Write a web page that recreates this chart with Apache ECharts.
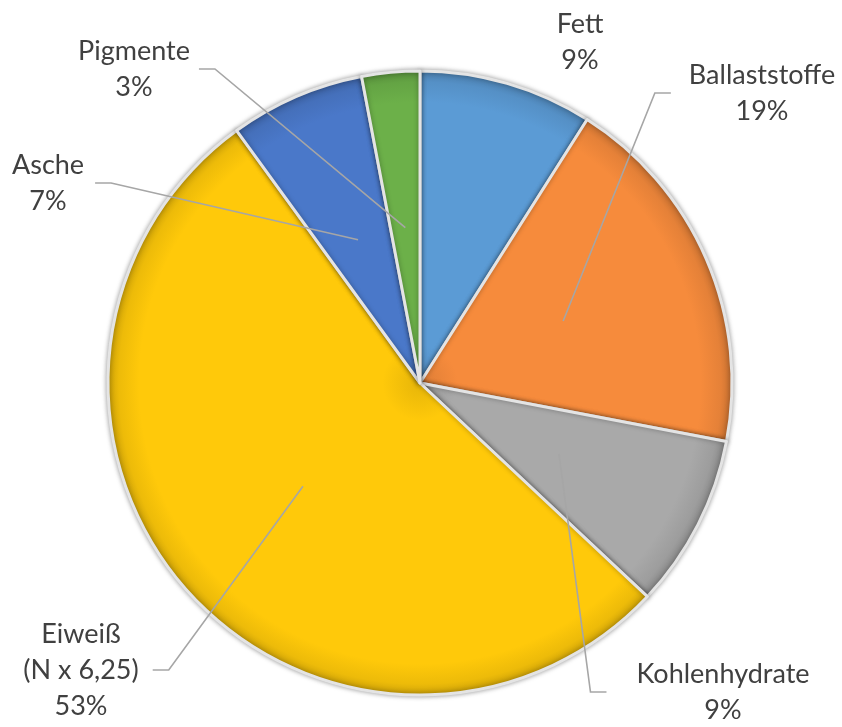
<!DOCTYPE html>
<html>
<head>
<meta charset="utf-8">
<style>
  html, body { margin: 0; padding: 0; background: #fff; }
  #chart { width: 842px; height: 727px; }
</style>
<script src="https://cdn.jsdelivr.net/npm/echarts@6/dist/echarts.min.js"></script>
</head>
<body>
<div id="chart"></div>
<script>
// Zusammensetzung (Anteile in %)
const categories = ['Fett', 'Ballaststoffe', 'Kohlenhydrate', 'Eiweiß\n(N x 6,25)', 'Asche', 'Pigmente'];
const shares = [9, 19, 9, 53, 7, 3];
const sliceColors = ['#5b9bd5', '#f68b3c', '#a9a9a9', '#ffc90a', '#4a78c9', '#6cb049'];

// label centres and which side the leader line comes from
const labelSpots = [
    { x: 580, y: 42, side: 0 },
    { x: 762, y: 93, side: 1, gap: 18 },
    { x: 723, y: 692, side: 1, gap: 30 },
    { x: 81, y: 670, side: -1, gap: 14 },
    { x: 48, y: 183, side: -1, gap: 11 },
    { x: 134, y: 69, side: -1, gap: 9 }
];

const pieCenter = [420, 383],
    pieRadius = 312;

const chart = echarts.init(document.getElementById('chart'), null, { renderer: 'canvas' });

const total = shares.reduce((a, b) => a + b, 0);
let acc = 0;
const midAngles = shares.map(v => {
    const mid = (acc + v / 2) / total * Math.PI * 2;
    acc += v;
    return mid;
});

function shade(hex, f) {
    const n = parseInt(hex.slice(1), 16);
    const c = [n >> 16, (n >> 8) & 255, n & 255].map(v => Math.round(v * f));
    return 'rgb(' + c.join(',') + ')';
}

function rimGradient(color) {
    return new echarts.graphic.RadialGradient(pieCenter[0], pieCenter[1], pieRadius, [
        { offset: 0, color: shade(color, 0.9) },
        { offset: 0.12, color: color },
        { offset: 0.9, color: color },
        { offset: 0.965, color: shade(color, 0.93) },
        { offset: 1, color: shade(color, 0.8) }
    ], true);
}

const commonPie = {
    type: 'pie',
    center: pieCenter,
    radius: pieRadius,
    startAngle: 90,
    clockwise: true,
    avoidLabelOverlap: false
};

const options = {
    backgroundColor: '#fff',
    animation: false,
    series: [Object.assign({}, commonPie, {
        z: 2,
        itemStyle: {
            borderColor: '#e4e4e4',
            borderWidth: 3,
            shadowColor: 'rgba(0,0,0,0.35)',
            shadowBlur: 5
        },
        label: { show: false },
        labelLine: { show: false },
        data: categories.map((name, i) => ({
            name: name,
            value: shares[i],
            itemStyle: { color: rimGradient(sliceColors[i]) }
        }))
    }), Object.assign({}, commonPie, {
        z: 5,
        silent: true,
        itemStyle: { color: 'rgba(0,0,0,0)', borderWidth: 0 },
        label: {
            show: true,
            position: 'outside',
            formatter: p => p.name + '\n' + p.value + '%',
            fontFamily: 'Lato',
            fontSize: 27,
            lineHeight: 36,
            color: '#404040',
            align: 'center'
        },
        labelLine: {
            show: true,
            lineStyle: { color: '#a6a6a6', width: 1.6 }
        },
        labelLayout: params => {
            const spot = labelSpots[params.dataIndex];
            const res = { x: spot.x, y: spot.y, align: 'center', verticalAlign: 'middle' };
            if (spot.side !== 0) {
                const a = midAngles[params.dataIndex];
                const start = [pieCenter[0] + Math.sin(a) * pieRadius / 2,
                    pieCenter[1] - Math.cos(a) * pieRadius / 2];
                const halfW = params.labelRect.width / 2;
                const endX = spot.x - spot.side * (halfW + spot.gap);
                const elbowX = endX - spot.side * 16;
                res.labelLinePoints = [start, [elbowX, spot.y], [endX, spot.y]];
            }
            return res;
        },
        data: categories.map((name, i) => ({
            name: name,
            value: shares[i],
            labelLine: { show: i !== 0 }
        }))
    })]
};

chart.setOption(options);
window.addEventListener('resize', () => chart.resize());
</script>
</body>
</html>
